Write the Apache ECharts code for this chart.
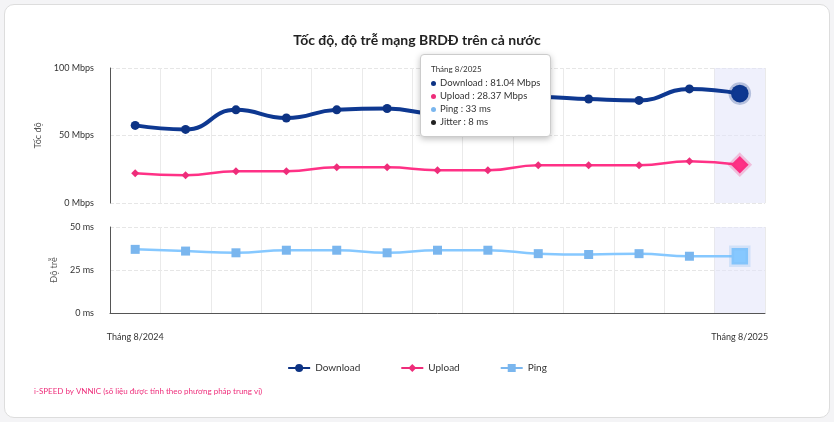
<!DOCTYPE html>
<html><head><meta charset="utf-8">
<script src="https://cdn.jsdelivr.net/npm/echarts@6/dist/echarts.min.js"></script>
<style>
body{margin:0;background:#f4f4f6;}
#card{position:absolute;left:4px;top:4px;width:824px;height:412px;background:#fff;border:1px solid #ddd;border-radius:10px;}
#chart{width:834px;height:422px;position:absolute;left:0;top:0;}
</style></head>
<body><div id="card"></div><div id="chart"></div>
<script>
var months = ['Tháng 8/2024','Tháng 9/2024','Tháng 10/2024','Tháng 11/2024','Tháng 12/2024','Tháng 1/2025','Tháng 2/2025','Tháng 3/2025','Tháng 4/2025','Tháng 5/2025','Tháng 6/2025','Tháng 7/2025','Tháng 8/2025'];
var download = [57.5, 54.5, 69, 63, 69, 70, 66, 78, 78.5, 77, 76, 84.5, 81.04];
var upload = [22, 20.6, 23.5, 23.5, 26.5, 26.5, 24.3, 24.3, 28, 28, 28, 31, 28.37];
var ping = [37, 36, 35, 36.5, 36.5, 35, 36.5, 36.5, 34.5, 34, 34.5, 33, 33];
var jitter = [9, 9, 9, 9, 8, 8, 8, 8, 8, 8, 8, 8, 8];

var font = 'Lato, "Noto Sans", sans-serif';
function lastBig(arr, size, halo) {
  return arr.map(function (v, i) {
    if (i !== arr.length - 1) return v;
    return { value: v, symbolSize: size, itemStyle: { borderColor: halo, borderWidth: 5 } };
  });
}
var chart = echarts.init(document.getElementById('chart'));
var gridLine = { show: true, lineStyle: { color: '#e6e6e6', type: 'dashed' } };
chart.setOption({
  textStyle: { fontFamily: font },
  title: { text: 'Tốc độ, độ trễ mạng BRDĐ trên cả nước', left: 'center', top: 28,
    textStyle: { fontSize: 14, fontWeight: 'bold', color: '#222', fontFamily: font } },
  grid: [
    { left: 110, right: 69, top: 68, height: 135 },
    { left: 110, right: 69, top: 227, height: 86 }
  ],
  axisPointer: { link: [{ xAxisIndex: 'all' }] },
  tooltip: {
    trigger: 'axis', alwaysShowContent: true,
    axisPointer: { type: 'shadow', z: 1, shadowStyle: { color: 'rgba(225,228,250,0.55)' } },
    position: [420, 54],
    backgroundColor: '#fff', borderColor: '#ccc', padding: [8, 10],
    extraCssText: 'box-shadow:0 2px 6px rgba(0,0,0,0.25);border-radius:4px;',
    formatter: function (p) {
      var i = p[0].dataIndex;
      var dot = function (c) { return '<span style="display:inline-block;width:5px;height:5px;border-radius:50%;background:' + c + ';margin-right:4px;vertical-align:middle"></span>'; };
      return '<div style="font-size:8px;color:#333;line-height:13px;font-family:Lato">' + months[i] + '</div>' +
        '<div style="font-size:9.5px;color:#333;line-height:13px;font-family:Lato">' +
        dot('#0d3384') + 'Download : ' + download[i].toFixed(2) + ' Mbps<br>' +
        dot('#ee2d7a') + 'Upload : ' + upload[i].toFixed(2) + ' Mbps<br>' +
        dot('#7ab6ee') + 'Ping : ' + ping[i] + ' ms<br>' +
        dot('#222') + 'Jitter : ' + jitter[i] + ' ms</div>';
    }
  },
  legend: { bottom: 44, left: 'center', itemGap: 40, itemWidth: 22, itemHeight: 10,
    data: ['Download', 'Upload', 'Ping'], textStyle: { fontSize: 10, color: '#333' } },
  graphic: [{ type: 'text', left: 34, top: 387,
    style: { text: 'i-SPEED by VNNIC (số liệu được tính theo phương pháp trung vị)', fill: '#ee2d7a', fontSize: 8, fontFamily: font } }],
  xAxis: [
    { gridIndex: 0, type: 'category', data: months, axisLabel: { show: false }, axisTick: { show: false },
      axisLine: { show: false }, splitLine: { show: true, interval: 0, lineStyle: { color: '#eaeaea' } } },
    { gridIndex: 1, type: 'category', data: months, axisTick: { show: false },
      axisLine: { show: true, lineStyle: { color: '#555' } },
      splitLine: { show: true, interval: 0, lineStyle: { color: '#eaeaea' } },
      axisLabel: { interval: 0, margin: 20, fontSize: 9, color: '#333',
        formatter: function (v, i) { return (i === 0 || i === months.length - 1) ? v : ''; } } }
  ],
  yAxis: [
    { gridIndex: 0, type: 'value', min: 0, max: 100, interval: 50, name: 'Tốc độ', nameLocation: 'middle', nameGap: 44,
      nameTextStyle: { fontSize: 9, color: '#555' },
      axisLine: { show: true, lineStyle: { color: '#555' } },
      axisLabel: { formatter: '{value} Mbps', fontSize: 9, color: '#333', margin: 16 }, splitLine: gridLine },
    { gridIndex: 1, type: 'value', min: 0, max: 50, interval: 25, name: 'Độ trễ', nameLocation: 'middle', nameGap: 44,
      nameTextStyle: { fontSize: 9, color: '#555' },
      axisLine: { show: true, lineStyle: { color: '#555' } },
      axisLabel: { formatter: '{value} ms', fontSize: 9, color: '#333', margin: 16 }, splitLine: gridLine }
  ],
  series: [
    { name: 'Download', type: 'line', smooth: true, xAxisIndex: 0, yAxisIndex: 0, z: 5,
      data: lastBig(download, 16, 'rgba(13,51,132,0.25)'), symbol: 'circle', symbolSize: 9,
      lineStyle: { width: 4, color: '#0d3384' }, itemStyle: { color: '#0d3384' } },
    { name: 'Upload', type: 'line', smooth: true, xAxisIndex: 0, yAxisIndex: 0, z: 5,
      data: lastBig(upload, 16, 'rgba(238,45,122,0.25)'), symbol: 'diamond', symbolSize: 8,
      lineStyle: { width: 2.5, color: '#ee2d7a' }, itemStyle: { color: '#ee2d7a' } },
    { name: 'Ping', type: 'line', smooth: true, xAxisIndex: 1, yAxisIndex: 1, z: 5,
      data: lastBig(ping, 15, 'rgba(122,182,238,0.25)'), symbol: 'rect', symbolSize: 9,
      lineStyle: { width: 2.5, color: '#7ab6ee' }, itemStyle: { color: '#7ab6ee' } }
  ]
});
chart.dispatchAction({ type: 'showTip', seriesIndex: 0, dataIndex: 12 });
</script></body></html>
